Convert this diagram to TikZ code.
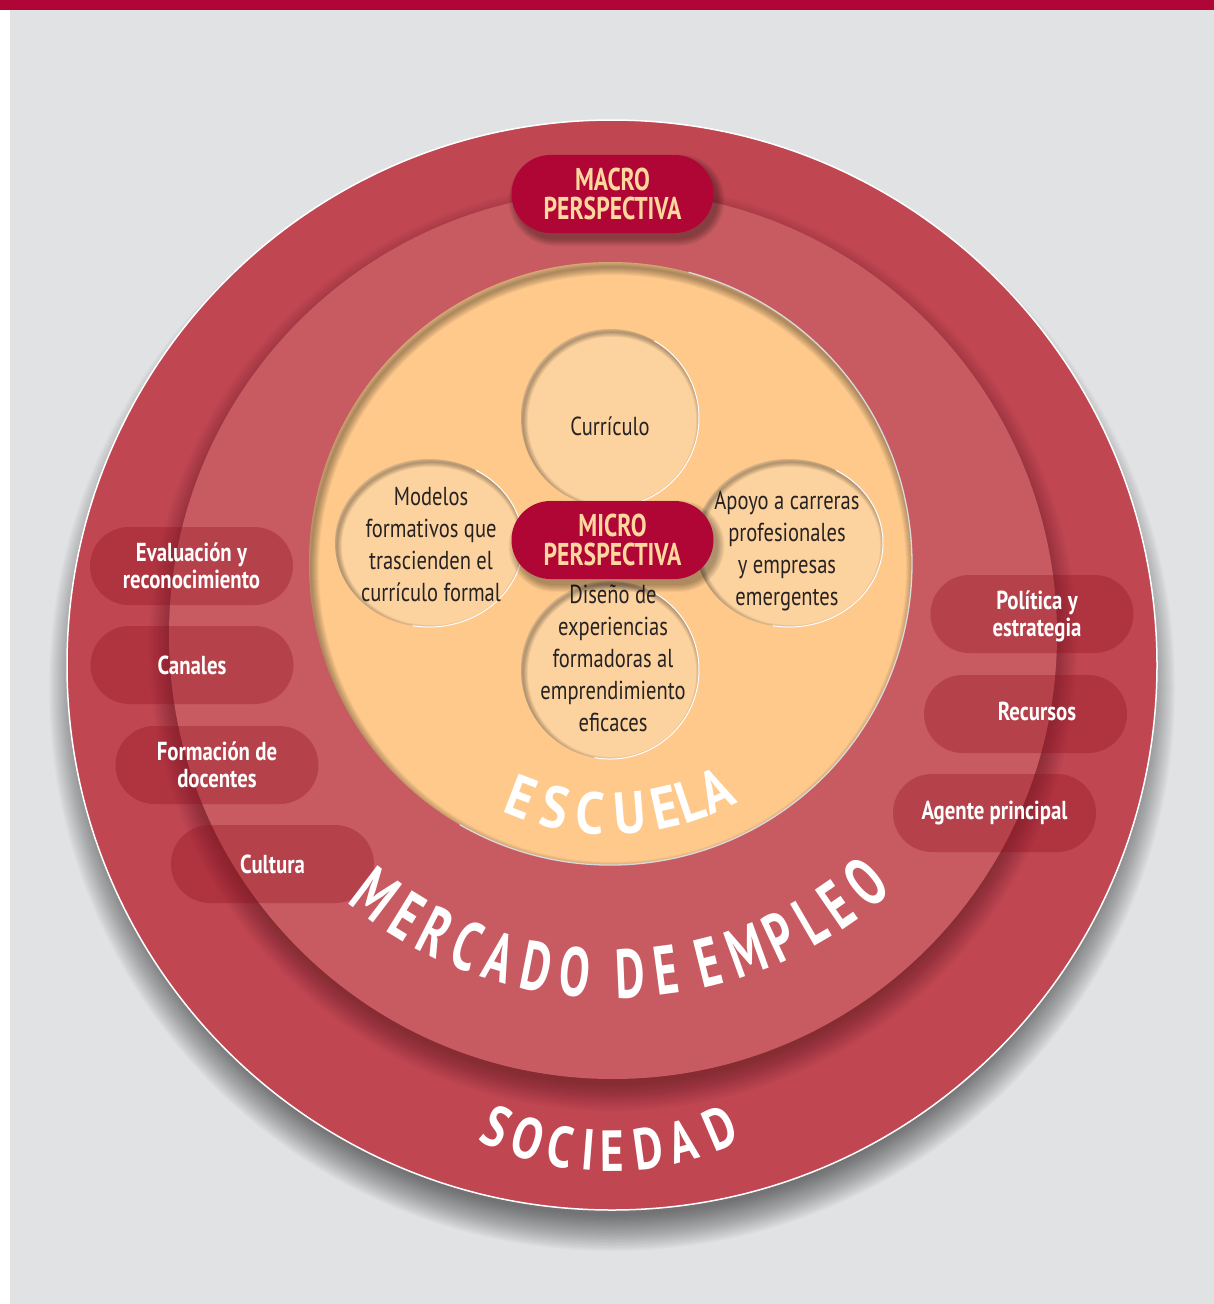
\documentclass[tikz,border=0pt]{standalone}
\usepackage{fontspec}
\setmainfont{PT Sans}
\newfontfamily\condfont[FakeStretch=0.79]{PT Sans}
\newfontfamily\lblfont[FakeStretch=0.8]{PT Sans}
\newfontfamily\escfont[FakeStretch=0.86]{PT Sans}
\newfontfamily\merfont[FakeStretch=0.66]{PT Sans}
\newfontfamily\socfont[FakeStretch=0.78]{PT Sans}
\newfontfamily\perfont[FakeStretch=0.75]{PT Sans}
\usetikzlibrary{shapes.misc}
\definecolor{bggray}{HTML}{E1E2E4}
\definecolor{topbar}{HTML}{B10537}
\definecolor{outerred}{HTML}{C04652}
\definecolor{midred}{HTML}{C75B61}
\definecolor{peach}{HTML}{FEC98B}
\definecolor{petalc}{HTML}{FCD29E}
\definecolor{crimson}{HTML}{B00636}
\definecolor{pilltxt}{HTML}{FFD89F}
\definecolor{pillfill}{HTML}{8C0A19}
\definecolor{darktxt}{HTML}{262223}
\definecolor{rimgray}{HTML}{D9D9DB}
\newcommand\petalshape[4]{%
  \fill[petalc] (#1,#2) ellipse [x radius=#3, y radius=#4];
  \begin{scope}
    \clip (#1,#2) ellipse [x radius=#3, y radius=#4];
    \foreach \k in {1,...,6} \draw[black,opacity=0.05,line width={1.6*\k}] ({#1+2},{#2-3}) ellipse [x radius=#3, y radius=#4];
  \end{scope}
  \draw[white,line width=1pt] ([shift={(-100:#3 and #4)}]#1,#2) arc[start angle=-100,end angle=60,x radius=#3,y radius=#4];
}
\newcommand\pillshadow[4]{% cx, cy, w, h
  \foreach \k in {0,...,7} \fill[black,opacity=0.045,rounded corners={#4/2+\k}] ({#1-#3/2-\k+4},{#2+#4/2+\k-6}) rectangle ({#1+#3/2+\k+4},{#2-#4/2-\k-6});
}
\tikzset{
  sidepill/.style={rounded rectangle, minimum width=203pt, minimum height=78pt, inner sep=0pt,
    fill=pillfill, fill opacity=0.3, text opacity=1, text=white,
    font=\lblfont\bfseries\fontsize{26}{27}\selectfont, align=center},
  pilllabel/.style={inner sep=0pt, text=white, font=\lblfont\bfseries\fontsize{26}{27}\selectfont, align=center},
  perspill/.style={rounded rectangle, minimum width=202pt, minimum height=78pt, inner sep=0pt,
    fill=crimson, text=pilltxt, font=\perfont\bfseries\fontsize{31.5}{28.5}\selectfont, align=center},
  petaltext/.style={inner sep=0pt, text=darktxt, font=\condfont\fontsize{26}{32}\selectfont, align=center},
  escl/.style={inner sep=0pt, text=white, font=\escfont\bfseries\fontsize{59}{59}\selectfont},
  merl/.style={inner sep=0pt, text=white, font=\merfont\bfseries\fontsize{69}{69}\selectfont},
  socl/.style={inner sep=0pt, text=white, font=\socfont\bfseries\fontsize{58}{58}\selectfont}
}
\begin{document}
\begin{tikzpicture}[x=1pt,y=1pt]
\useasboundingbox (0,0) rectangle (1214,-1304);
\fill[white] (0,0) rectangle (1214,-1304);
\fill[bggray] (10,-10) rectangle (1214,-1304);
\fill[topbar] (0,0) rectangle (1214,-10);

% outer circle (SOCIEDAD)
\foreach \k in {0,...,24} \fill[black,opacity=0.022] (612,-688) circle ({527+1.5*\k});
\fill[outerred] (612,-665) circle (545);
\draw[white,line width=1.5pt] (612,-665) circle (545);

% middle circle (MERCADO DE EMPLEO)
\begin{scope}
  \clip (612,-665) circle (544);
  \foreach \k in {0,...,15} \fill[black,opacity=0.02] (613,-647) circle ({437+1.8*\k});
\end{scope}
\fill[midred] (613,-635) circle (444);

% inner circle (ESCUELA)
\fill[peach] (610.5,-563.5) circle (301.5);
\begin{scope}
  \clip (610.5,-563.5) circle (301.5);
  \foreach \k in {1,...,8} \draw[black,opacity=0.045,line width={2*\k}] (612.5,-568.5) circle (301.5);
\end{scope}
\draw[rimgray,line width=1.3pt] ([shift={(-120:301.5)}]610.5,-563.5) arc[start angle=-120,end angle=75,radius=301.5];

% petals
\petalshape{610}{-418}{89}{89}
\petalshape{610}{-670}{89}{89}
\petalshape{429}{-543}{94}{84}
\petalshape{789}{-543}{94}{84}

\node[petaltext] (curt) at (610,-426) {Currículo};
\node[petaltext] (modt) at (431,-545) {Modelos\\formativos que\\trascienden el\\currículo formal};
\node[petaltext] (apot) at (787,-551) {Apoyo a carreras\\profesionales\\y empresas\\emergentes};
\node[petaltext] (dist) at (613,-658) {Diseño de\\experiencias\\formadoras al\\emprendimiento\\eficaces};

% perspective pills
\pillshadow{612.5}{-194}{202}{78}
\node[perspill] (macro) at (612.5,-194) {MACRO\\PERSPECTIVA};
\pillshadow{612.5}{-540}{202}{78}
\node[perspill] (micro) at (612.5,-540) {MICRO\\PERSPECTIVA};

% side pills
\node[sidepill] (evalp) at (191.5,-566) {Evaluación y\\reconocimiento};
\node[sidepill] (canp) at (192,-665) {Canales};
\node[sidepill] (formp) at (217,-765) {Formación de\\docentes};
\node[sidepill] (cultp) at (272.5,-864) {Cultura};
\node[sidepill] (polp) at (1032,-614) {};
\node[pilllabel] (polt) at (1037,-616) {Política y\\estrategia};
\node[sidepill] (recp) at (1025.5,-714) {};
\node[pilllabel] (rect) at (1037,-711) {Recursos};
\node[sidepill] (agp) at (994.5,-813) {Agente principal};

% curved titles
\foreach \ch/\a [count=\i] in {E/-21, S/-12.8, C/-4.6, U/4.4, E/12.6, L/18.7, A/24.9}
  \node[escl, rotate=\a] (esc\i) at ([shift={(-90+\a:250)}]610.5,-563.5) {\ch};
\foreach \ch/\a [count=\i] in {M/-37.2, E/-31.6, R/-26.8, C/-21.7, A/-16.7, D/-11.2, O/-5.6, D/2.5, E/7.7, E/14, M/19.9, P/25.2, L/30.2, E/34.6, O/40}
  \node[merl, rotate=\a] (mer\i) at ([shift={(-90+\a:393)}]613,-581) {\ch};
\foreach \ch/\a [count=\i] in {S/-23.9, O/-17.1, C/-10.3, I/-4.5, E/0.4, D/7.9, A/15.0, D/23.2}
  \node[socl, rotate=\a] (soc\i) at ([shift={(-90+\a:279)}]610,-872) {\ch};
\end{tikzpicture}
\end{document}
